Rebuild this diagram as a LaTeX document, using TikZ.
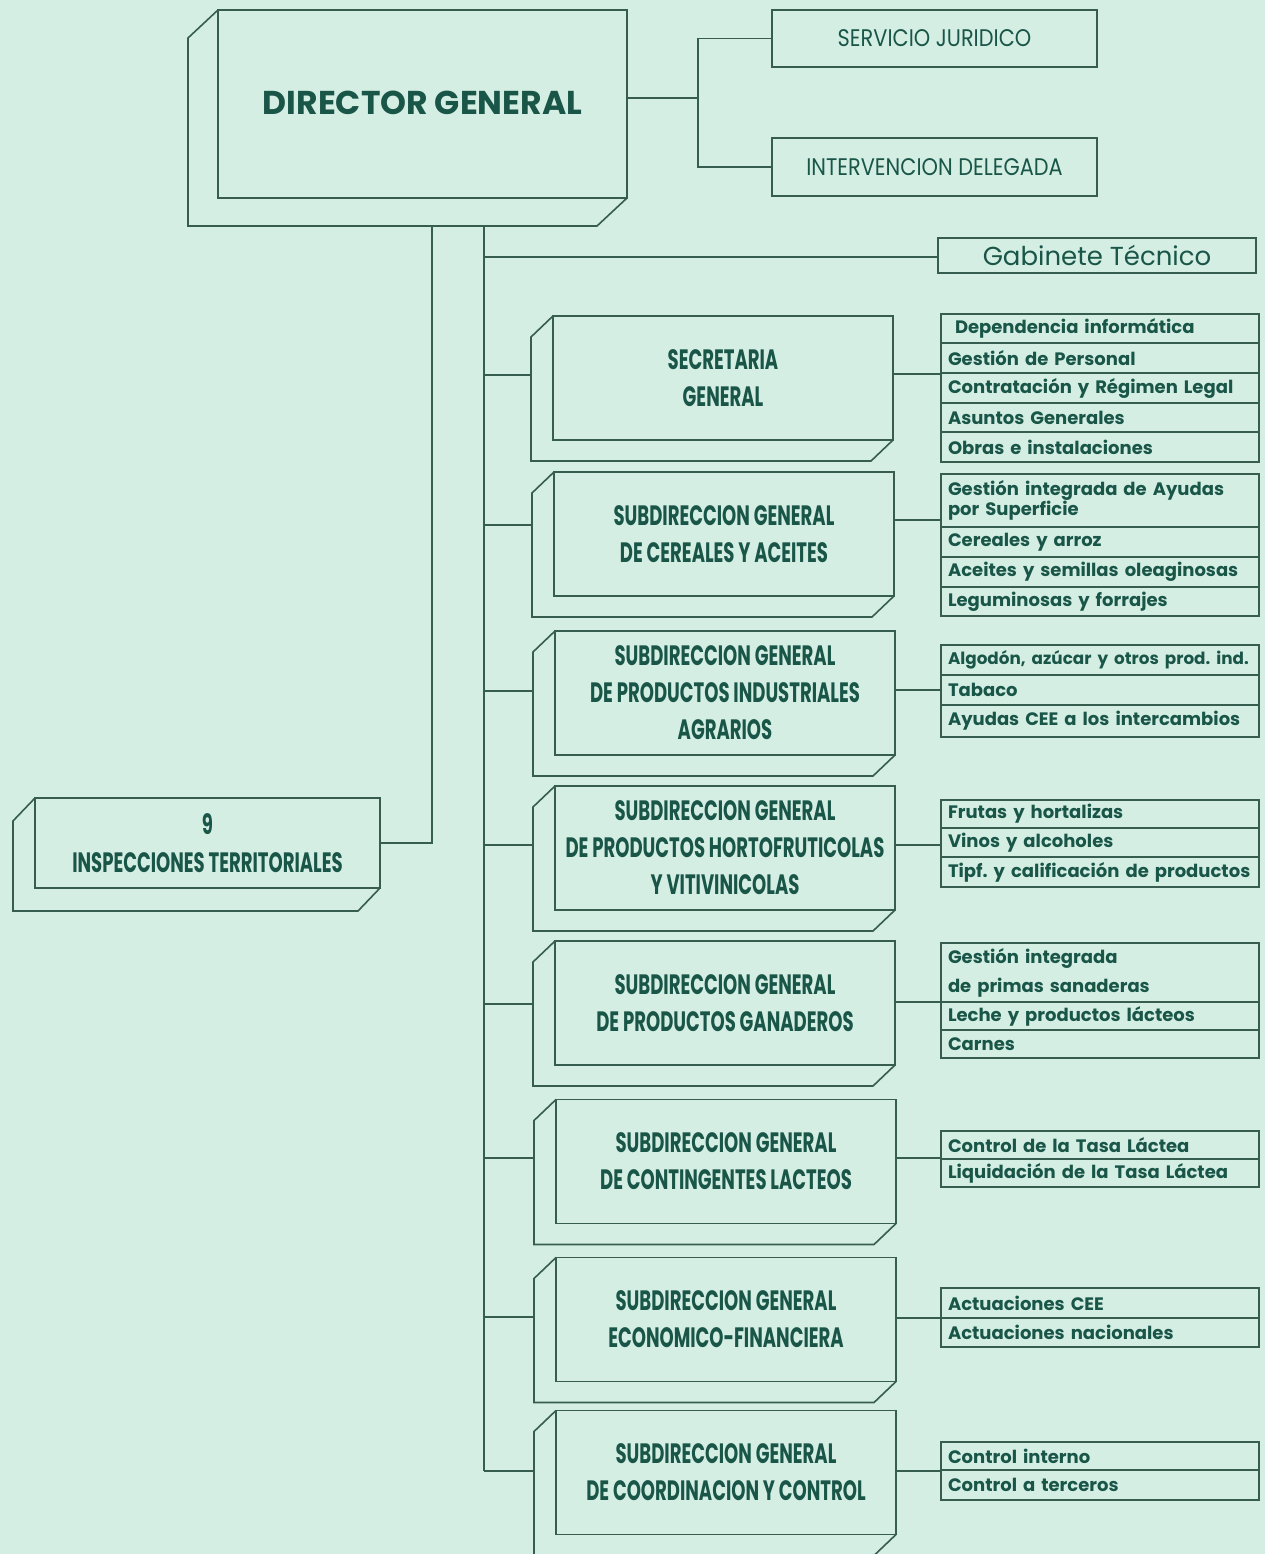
\documentclass[tikz,border=0pt]{standalone}
\usepackage{fontspec}
\setmainfont{Poppins}
\newfontfamily\condB[FakeStretch=0.645]{Poppins}
\newfontfamily\condR[FakeStretch=0.87]{Poppins}
\definecolor{bg}{RGB}{213,238,228}
\definecolor{ln}{RGB}{55,92,80}
\definecolor{tx}{RGB}{25,86,72}
\newcommand\R[1]{\mbox{#1}}
\newcommand\backshape[3]{\draw[back] (#1.north west) -- ++(-#2,#3) coordinate (#1-bl) -- ([shift={(-#2,#3)}]#1.south west) -- ([shift={(-#2,#3)}]#1.south east) -- (#1.south east);}
\newcommand\subbox[4]{%
  \node[front, minimum width=340, minimum height=124] (#1) at (#2,#3) {#4};
  \backshape{#1}{22}{21}}
\newcommand\lrow[4]{\node[rowbox, minimum height={#3-#2}] (#1) at (941,#2) {#4};}
\frenchspacing
\begin{document}
\begin{tikzpicture}[x=1pt,y=-1pt,
  front/.style={draw=ln, line width=1.6pt, inner sep=0pt, outer sep=0pt, align=center, text=tx,
    font=\condB\bfseries\fontsize{28}{37}\selectfont},
  back/.style={draw=ln, line width=1.6pt, line join=miter},
  conn/.style={draw=ln, line width=1.6pt},
  plainbox/.style={draw=ln, line width=1.6pt, inner sep=0pt, outer sep=0pt, text=tx},
  rowbox/.style={draw=ln, line width=1.5pt, anchor=north west, text width=304, inner xsep=7,
    inner ysep=0pt, outer sep=0pt, align=left, text=tx, font=\bfseries\fontsize{18}{20}\selectfont}]
\fill[bg] (0,0) rectangle (1265,1554);
\useasboundingbox (0,0) rectangle (1265,1554);

% Director general
\node[front, minimum width=409, minimum height=188, font=\bfseries\fontsize{33}{36}\selectfont] (dg) at (422.5,104) {\raisebox{3pt}{DIRECTOR GENERAL}};
\backshape{dg}{30}{28}

% top right boxes
\node[plainbox, minimum width=325, minimum height=57, font=\condR\fontsize{24}{28}\selectfont] (sj) at (934.5,38.5) {SERVICIO JURIDICO};
\node[plainbox, minimum width=325, minimum height=58, font=\condR\fontsize{24}{28}\selectfont] (id) at (934.5,167) {INTERVENCION DELEGADA};
\coordinate (jr) at (698,98);
\draw[conn] (dg.east |- jr) -- (jr);
\draw[conn] (sj.west) -| (jr);
\draw[conn] (id.west) -| (jr);

% Gabinete tecnico
\node[plainbox, minimum width=318, minimum height=35, font=\fontsize{26}{30}\selectfont] (gt) at (1097,255.5) {Gabinete Técnico};

% Inspecciones
\node[front, minimum width=345, minimum height=90, font=\condB\bfseries\fontsize{28}{38}\selectfont] (it) at (207.5,843) {9\\INSPECCIONES TERRITORIALES};
\backshape{it}{22}{23}

% subdirecciones
\subbox{sg}{723}{378}{SECRETARIA\\GENERAL}
\subbox{sc}{724}{534}{SUBDIRECCION GENERAL\\DE CEREALES Y ACEITES}
\subbox{sp}{725}{693}{SUBDIRECCION GENERAL\\DE PRODUCTOS INDUSTRIALES\\AGRARIOS}
\subbox{sh}{725}{848}{SUBDIRECCION GENERAL\\DE PRODUCTOS HORTOFRUTICOLAS\\Y VITIVINICOLAS}
\subbox{sn}{725}{1003}{SUBDIRECCION GENERAL\\DE PRODUCTOS GANADEROS}
\subbox{sl}{726}{1161.5}{SUBDIRECCION GENERAL\\DE CONTINGENTES LACTEOS}
\subbox{se}{726}{1319.5}{SUBDIRECCION GENERAL\\ECONOMICO-FINANCIERA}
\subbox{sk}{726}{1472.5}{SUBDIRECCION GENERAL\\DE COORDINACION Y CONTROL}

% lists
\lrow{l1a}{314}{343}{\R{\hspace{7pt}Dependencia informática}}
\lrow{l1b}{343}{373}{\R{Gestión de Personal}}
\lrow{l1c}{373}{403}{\R{Contratación y Régimen Legal}}
\lrow{l1d}{403}{432}{\R{Asuntos Generales}}
\lrow{l1e}{432}{462}{\R{Obras e instalaciones}}

\lrow{l2a}{474}{527}{\R{Gestión integrada de Ayudas}\\\R{por Superficie}}
\lrow{l2b}{527}{557}{\R{Cereales y arroz}}
\lrow{l2c}{557}{587}{\R{Aceites y semillas oleaginosas}}
\lrow{l2d}{587}{616}{\R{Leguminosas y forrajes}}

\lrow{l3a}{645}{675}{\R{\fontsize{16.8}{20}\selectfont Algodón, azúcar y otros prod. ind.}}
\lrow{l3b}{675}{705}{\R{Tabaco}}
\lrow{l3c}{705}{737}{\R{Ayudas CEE a los intercambios}}

\lrow{l4a}{800}{828}{\R{Frutas y hortalizas}}
\lrow{l4b}{828}{857}{\R{Vinos y alcoholes}}
\lrow{l4c}{857}{887}{\R{Tipf. y calificación de productos}}

\lrow{l5a}{943}{1002}{\R{Gestión integrada}\\[9pt]\R{de primas sanaderas}}
\lrow{l5b}{1002}{1030}{\R{Leche y productos lácteos}}
\lrow{l5c}{1030}{1058}{\R{Carnes}}

\lrow{l6a}{1131}{1159}{\R{Control de la Tasa Láctea}}
\lrow{l6b}{1159}{1187}{\R{Liquidación de la Tasa Láctea}}

\lrow{l7a}{1288}{1318}{\R{Actuaciones CEE}}
\lrow{l7b}{1318}{1347}{\R{Actuaciones nacionales}}

\lrow{l8a}{1442}{1470}{\R{Control interno}}
\lrow{l8b}{1470}{1500}{\R{Control a terceros}}

% trunks
\coordinate (ta) at (432,226);
\coordinate (tai) at (432,843);
\draw[conn] (ta) -- (tai) -- (it.east |- tai);
\coordinate (tb) at (484,226);
\coordinate (tg) at (484,257);
\draw[conn] (tg) -- (gt.west |- tg);

\foreach \n/\y/\c in {sg/375/374, sc/525/520, sp/691/690, sh/845/845, sn/1004/1002, sl/1158/1158, se/1317/1318, sk/1471/1471}{
  \coordinate (b-\n) at (484,\y);
  \coordinate (c-\n) at (941,\c);
  \draw[conn] (b-\n) -- (b-\n -| \n-bl);
  \draw[conn] (\n.east |- c-\n) -- (c-\n);
}
\draw[conn] (tb) -- (b-sk);
\end{tikzpicture}
\end{document}
